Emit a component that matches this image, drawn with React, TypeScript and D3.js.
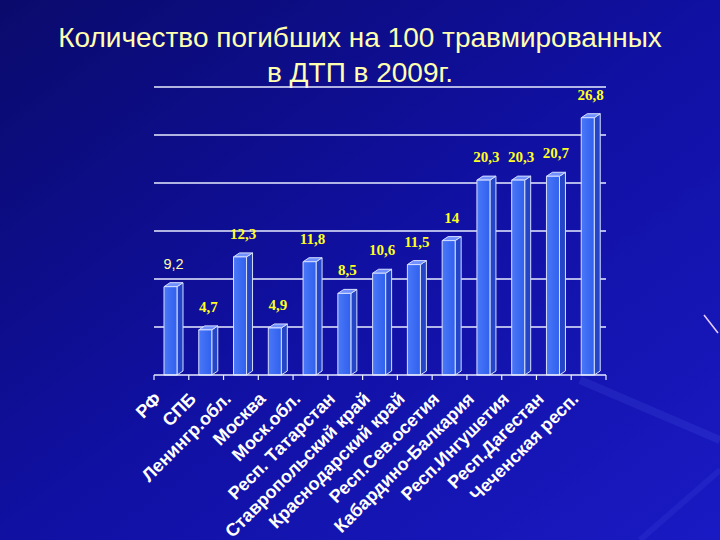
import React from "react";
import * as d3 from "d3";

const categories = [
  "РФ",
  "СПБ",
  "Ленингр.обл.",
  "Москва",
  "Моск.обл.",
  "Респ. Татарстан",
  "Ставропольский край",
  "Краснодарский край",
  "Респ.Сев.осетия",
  "Кабардино-Балкария",
  "Респ.Ингушетия",
  "Респ.Дагестан",
  "Чеченская респ.",
];
const values = [9.2, 4.7, 12.3, 4.9, 11.8, 8.5, 10.6, 11.5, 14, 20.3, 20.3, 20.7, 26.8];
const valueLabels = ["9,2", "4,7", "12,3", "4,9", "11,8", "8,5", "10,6", "11,5", "14", "20,3", "20,3", "20,7", "26,8"];
const yTicks = [0, 5, 10, 15, 20, 25, 30];
const titleLines = ["Количество погибших на 100 травмированных", "в ДТП в 2009г."];

const W = 720;
const H = 540;

export default function App() {
  const x = d3.scaleBand<string>().domain(categories).range([154, 606]).paddingInner(0).paddingOuter(0);
  const y = d3.scaleLinear().domain([0, 30]).range([375, 87]);
  const bw = x.bandwidth();
  const frontW = 13;
  const dx = 6;
  const dy = 4;
  const base = y(0);

  return (
    <div style={{ position: "fixed", left: 0, top: 0, width: W, height: H }}>
      <svg width={W} height={H} style={{ display: "block" }}>
        <defs>
          <linearGradient id="bg" x1="0" y1="0" x2="1" y2="1">
            <stop offset="0" stopColor="#0a0a6c" />
            <stop offset="0.5" stopColor="#1010a2" />
            <stop offset="1" stopColor="#1a1ac4" />
          </linearGradient>
          <linearGradient id="front" x1="0" y1="0" x2="1" y2="0">
            <stop offset="0" stopColor="#4a78f8" />
            <stop offset="1" stopColor="#3060ee" />
          </linearGradient>
        </defs>
        <rect x={0} y={0} width={W} height={H} fill="url(#bg)" />
        {/* faint decorative streaks */}
        <line x1={580} y1={380} x2={720} y2={440} stroke="#7080ff" strokeOpacity={0.12} strokeWidth={8} />
        <line x1={640} y1={540} x2={720} y2={470} stroke="#7080ff" strokeOpacity={0.1} strokeWidth={6} />
        <line x1={704} y1={315} x2={718} y2={333} stroke="#e8d0ff" strokeWidth={1.5} />

        {/* title */}
        {titleLines.map((t, i) => (
          <text
            key={i}
            x={360}
            y={47 + i * 35}
            textAnchor="middle"
            fontFamily="Liberation Sans, Arial, sans-serif"
            fontSize={28}
            fill="#ffffb0"
          >
            {t}
          </text>
        ))}

        {/* gridlines */}
        {yTicks.slice(1).map((t) => (
          <line key={t} x1={154} x2={606} y1={y(t)} y2={y(t)} stroke="#e8ecff" strokeWidth={1.5} />
        ))}

        {/* bars */}
        {categories.map((c, i) => {
          const x0 = (x(c) as number) + 10;
          const yt = y(values[i]);
          const x1 = x0 + frontW;
          return (
            <g key={c} stroke="#d8e0ff" strokeWidth={1} strokeLinejoin="round">
              <polygon points={`${x1},${yt} ${x1 + dx},${yt - dy} ${x1 + dx},${base - dy} ${x1},${base}`} fill="#2545c8" />
              <polygon points={`${x0},${yt} ${x0 + dx},${yt - dy} ${x1 + dx},${yt - dy} ${x1},${yt}`} fill="#7090ff" />
              <rect x={x0} y={yt} width={frontW} height={base - yt} fill="url(#front)" />
            </g>
          );
        })}

        {/* axis */}
        <line x1={154} x2={606} y1={base} y2={base} stroke="#e8ecff" strokeWidth={1.5} />
        {categories.map((c, i) => (
          <line key={"t" + i} x1={x(c) as number} x2={x(c) as number} y1={base} y2={base + 5} stroke="#e8ecff" strokeWidth={1.2} />
        ))}
        <line x1={606} x2={606} y1={base} y2={base + 5} stroke="#e8ecff" strokeWidth={1.2} />

        {/* value labels */}
        {categories.map((c, i) => {
          const cx = (x(c) as number) + 10 + (frontW + dx) / 2;
          const first = i === 0;
          return (
            <text
              key={"v" + i}
              x={cx}
              y={y(values[i]) - 18}
              textAnchor="middle"
              fontFamily={first ? "Liberation Sans, Arial, sans-serif" : "Liberation Serif, Times New Roman, serif"}
              fontWeight={first ? "normal" : "bold"}
              fontSize={first ? 14.5 : 15}
              fill={first ? "#ffffa8" : "#ffff22"}
            >
              {valueLabels[i]}
            </text>
          );
        })}

        {/* category labels */}
        {categories.map((c) => {
          const ax = (x(c) as number) + bw / 2 - 9;
          const ay = 400;
          return (
            <text
              key={"c" + c}
              x={ax}
              y={ay}
              transform={`rotate(-45 ${ax} ${ay})`}
              textAnchor="end"
              fontFamily="Liberation Sans, Arial, sans-serif"
              fontWeight="bold"
              fontSize={18}
              fill="#ffffff"
            >
              {c}
            </text>
          );
        })}
      </svg>
    </div>
  );
}
